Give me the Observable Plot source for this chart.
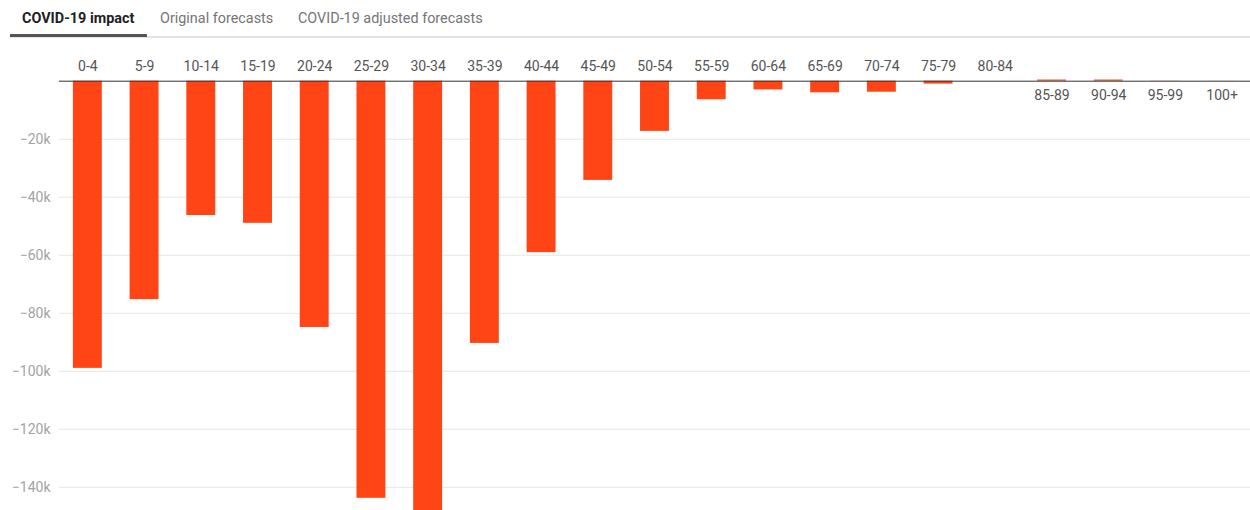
<!DOCTYPE html>
<html>
<head>
<meta charset="utf-8">
<script src="https://cdn.jsdelivr.net/npm/d3@7"></script>
<script src="https://cdn.jsdelivr.net/npm/@observablehq/plot@0.6"></script>
<style>
  html, body { margin: 0; padding: 0; background: #fff; }
  body { width: 1250px; font-family: Roboto, "Noto Sans", sans-serif; }
  .tabs { position: relative; height: 45px; }
  .tab { position: absolute; top: 10px; font-size: 14.4px; line-height: 18px; color: #757575; white-space: nowrap; }
  .tab.active { color: #212121; font-weight: 700; }
  .divider { position: absolute; left: 10px; right: 0; top: 36px; height: 2px; background: #e3e3e3; }
  .indicator { position: absolute; left: 10px; width: 137px; top: 33.5px; height: 3px; background: #555; }
  #chart svg { display: block; }
</style>
</head>
<body>
<div class="tabs">
  <div class="tab active" style="left:22px">COVID-19 impact</div>
  <div class="tab" style="left:160px">Original forecasts</div>
  <div class="tab" style="left:298px">COVID-19 adjusted forecasts</div>
  <div class="divider"></div>
  <div class="indicator"></div>
</div>
<div id="chart"></div>
<script>
// Five-year age bands
const ageGroups = ["0-4", "5-9", "10-14", "15-19", "20-24", "25-29", "30-34", "35-39", "40-44", "45-49",
  "50-54", "55-59", "60-64", "65-69", "70-74", "75-79", "80-84", "85-89", "90-94", "95-99", "100+"];

// Change in population attributed to COVID-19, per age band
const impact = [-99000, -75300, -46300, -49000, -84900, -143800, -148000, -90400, -59100, -34200,
  -17300, -6400, -3000, -4000, -3800, -1000, 0, 400, 400, 50, 20];

// Value-axis ticks
const yTicks = [-20000, -40000, -60000, -80000, -100000, -120000, -140000];

const rows = ageGroups.map((age, i) => ({age, value: impact[i]}));
const below = rows.filter(d => d.value <= 0);
const above = rows.filter(d => d.value > 0);

const fmtK = d => (d < 0 ? "\u2212" : "") + Math.abs(d) / 1000 + "k";

const chart = Plot.plot({
  width: 1250,
  height: 465,
  marginTop: 35.7,
  marginBottom: 0,
  marginLeft: 59,
  marginRight: 0,
  style: {fontFamily: "Roboto, 'Noto Sans', sans-serif", fontSize: "14px", background: "#fff", overflow: "visible"},
  x: {domain: ageGroups, paddingInner: 0.49, paddingOuter: 0.245, round: false, axis: null},
  y: {domain: [-148000, 0], axis: null},
  marks: [
    Plot.gridY(yTicks, {stroke: "#e6e6e6", strokeOpacity: 1}),
    Plot.axisY(yTicks, {tickSize: 0, tickPadding: 9, tickFormat: fmtK, label: null, fill: "#a3a3a3", fontSize: 14}),
    Plot.barY(rows, {x: "age", y: "value", fill: "#ff4515"}),
    Plot.ruleY([0], {stroke: "#333", strokeWidth: 1}),
    // Band labels sit on the opposite side of the zero line from the bar
    Plot.text(below, {x: "age", y: 0, text: "age", dy: -14.5, fill: "#555", fontSize: 14}),
    Plot.text(above, {x: "age", y: 0, text: "age", dy: 14.5, fill: "#555", fontSize: 14})
  ]
});

document.getElementById("chart").append(chart);
</script>
</body>
</html>
